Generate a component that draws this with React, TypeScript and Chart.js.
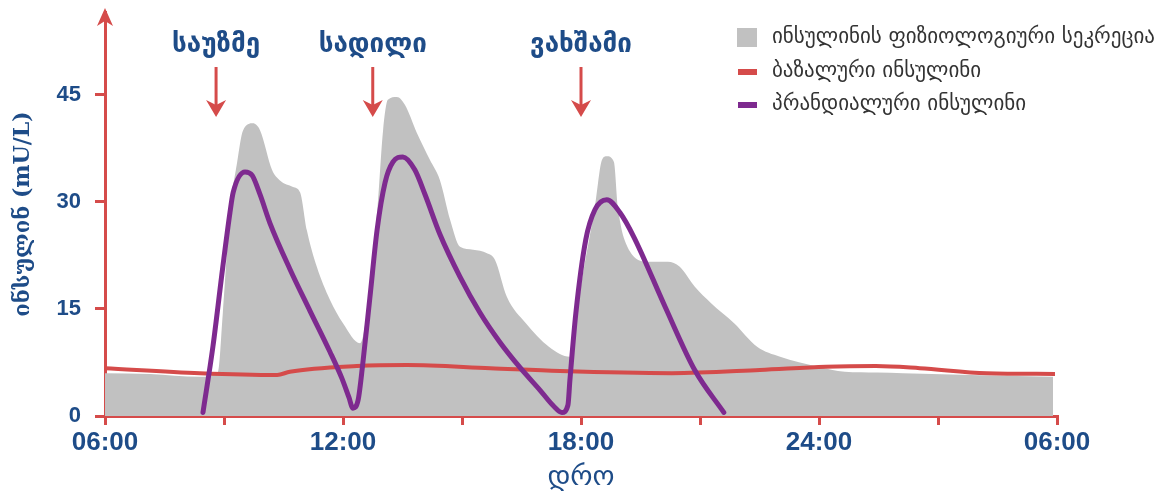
import { useEffect, useRef } from "react";
import { Chart, registerables } from "chart.js";

Chart.register(...registerables);

// ---- data (hours of the day, 6 = 06:00 ... 30 = 06:00 next day) ----
const secretionHours = [6.0, 7.13, 8.39, 8.85, 8.97, 9.15, 9.33, 9.48, 9.73, 9.91, 10.21, 10.41, 10.74, 10.92, 11.09, 11.34, 11.67, 12.0, 12.43, 12.6, 12.86, 13.01, 13.13, 13.36, 13.56, 13.86, 14.19, 14.44, 14.7, 14.95, 15.28, 15.63, 15.83, 16.13, 16.61, 17.19, 17.72, 18.02, 18.35, 18.53, 18.65, 18.83, 18.93, 19.13, 19.71, 20.19, 20.49, 20.87, 21.28, 21.86, 22.44, 23.02, 23.97, 24.65, 25.46, 26.12, 28.06, 29.9];
const secretionValues = [6.0, 5.9, 5.5, 6.2, 14.4, 28.5, 35.5, 40.0, 41.0, 40.0, 34.5, 33.0, 32.1, 31.3, 26.0, 20.9, 16.3, 13.0, 10.2, 14.4, 28.5, 40.0, 44.3, 44.7, 43.6, 39.7, 35.9, 33.1, 27.5, 23.7, 23.3, 22.8, 21.9, 16.7, 13.0, 9.7, 8.3, 19.0, 29.3, 35.9, 36.4, 35.6, 29.3, 24.2, 21.6, 21.6, 20.9, 18.1, 15.8, 13.0, 9.7, 8.3, 6.9, 6.2, 6.1, 6.0, 5.7, 5.5];

const basalHours = [6.0, 8.39, 10.34, 10.66, 12.35, 13.61, 15.71, 17.47, 20.29, 22.51, 24.17, 25.43, 26.54, 28.23, 29.95];
const basalValues = [6.7, 6.0, 5.75, 6.2, 7.0, 7.15, 6.7, 6.3, 6.0, 6.45, 6.9, 7.0, 6.7, 6.0, 5.9];

const prandialHours = [8.47, 8.72, 8.97, 9.15, 9.23, 9.53, 9.71, 9.91, 10.16, 10.66, 11.17, 11.67, 11.97, 12.15, 12.25, 12.38, 12.5, 12.68, 12.86, 13.06, 13.26, 13.51, 13.81, 14.07, 14.44, 14.95, 15.45, 15.96, 16.46, 16.97, 17.29, 17.52, 17.67, 17.72, 17.87, 18.12, 18.35, 18.65, 18.98, 19.33, 20.12, 20.87, 21.6];
const prandialValues = [0.5, 9.7, 20.9, 28.5, 31.3, 34.2, 33.7, 31.0, 27.0, 20.6, 14.7, 9.0, 5.3, 2.6, 1.1, 2.2, 7.4, 16.7, 26.1, 32.7, 35.6, 36.3, 34.5, 31.0, 25.5, 19.5, 14.5, 10.3, 6.8, 3.6, 1.5, 0.5, 1.5, 5.0, 14.4, 24.7, 28.9, 30.3, 28.5, 25.1, 15.3, 6.4, 0.5];

const xTickHours = [6, 9, 12, 15, 18, 21, 24, 27, 30];
const xTickLabels = ["06:00", "", "12:00", "", "18:00", "", "24:00", "", "06:00"];
const yTickValues = [0, 15, 30, 45];

const mealHours = [8.8, 12.75, 18.0];
const mealLabels = ["საუზმე", "სადილი", "ვახშამი"];

const seriesLabels = [
  "ინსულინის ფიზიოლოგიური სეკრეცია",
  "ბაზალური ინსულინი",
  "პრანდიალური ინსულინი",
];
const yTitle = "ინსულინ (mU/L)";
const xTitle = "დრო";

// ---- styles ----
const RED = "#D54B4A";
const PURPLE = "#7E2A8F";
const GRAY = "#C1C1C1";
const BLUE = "#1E4C88";
const GEO = "'DejaVu Sans', 'Noto Sans', sans-serif";
const GEO_SERIF = "'DejaVu Serif', 'DejaVu Sans', serif";
const NUM = "'Liberation Sans', Arial, sans-serif";

const toPoints = (xs: number[], ys: number[]) => xs.map((x, i) => ({ x, y: ys[i] }));

const overlayPlugin = {
  id: "overlay",
  afterDraw(chart: any) {
    const { ctx, chartArea, scales } = chart;
    const xs = scales.x;
    ctx.save();
    // y-axis arrow head
    const ax = chartArea.left;
    ctx.fillStyle = RED;
    ctx.strokeStyle = RED;
    ctx.lineWidth = 3;
    ctx.beginPath();
    ctx.moveTo(ax, chartArea.top + 2);
    ctx.lineTo(ax, 14);
    ctx.stroke();
    ctx.beginPath();
    ctx.moveTo(ax, 8);
    ctx.lineTo(ax + 8, 26);
    ctx.lineTo(ax, 21);
    ctx.lineTo(ax - 8, 26);
    ctx.closePath();
    ctx.fill();

    // meal arrows and labels
    mealHours.forEach((h, i) => {
      const px = xs.getPixelForValue(h);
      ctx.strokeStyle = RED;
      ctx.fillStyle = RED;
      ctx.lineWidth = 3;
      ctx.beginPath();
      ctx.moveTo(px, 67);
      ctx.lineTo(px, 108);
      ctx.stroke();
      ctx.beginPath();
      ctx.moveTo(px, 117);
      ctx.lineTo(px - 10, 100);
      ctx.lineTo(px, 105);
      ctx.lineTo(px + 10, 100);
      ctx.closePath();
      ctx.fill();
      ctx.fillStyle = BLUE;
      ctx.font = `bold 26px ${GEO}`;
      ctx.textAlign = "center";
      ctx.textBaseline = "middle";
      ctx.fillText(mealLabels[i], px, 45);
    });

    // legend
    const lx = 737;
    const rows = [38, 72, 105];
    const ds = chart.data.datasets;
    ctx.font = `21px ${GEO}`;
    ctx.textAlign = "left";
    ctx.textBaseline = "middle";
    rows.forEach((ry, i) => {
      if (i === 0) {
        ctx.fillStyle = ds[i].backgroundColor;
        ctx.fillRect(lx, ry - 10, 20, 19);
      } else {
        ctx.fillStyle = ds[i].borderColor;
        ctx.fillRect(lx + 1, ry - 3, 19, 6);
      }
      ctx.fillStyle = "#333333";
      ctx.fillText(seriesLabels[i], lx + 35, ry);
    });
    ctx.restore();
  },
};

export default function App() {
  const ref = useRef<HTMLCanvasElement | null>(null);

  useEffect(() => {
    document.body.style.margin = "0";
    if (!ref.current) return;
    const chart = new Chart(ref.current, {
      type: "line",
      data: {
        datasets: [
          {
            label: seriesLabels[0],
            data: toPoints(secretionHours, secretionValues),
            borderWidth: 0,
            borderColor: GRAY,
            backgroundColor: GRAY,
            fill: "origin",
            pointRadius: 0,
            cubicInterpolationMode: "monotone",
            order: 3,
          },
          {
            label: seriesLabels[1],
            data: toPoints(basalHours, basalValues),
            borderWidth: 4,
            borderColor: RED,
            backgroundColor: RED,
            fill: false,
            pointRadius: 0,
            cubicInterpolationMode: "monotone",
            order: 2,
          },
          {
            label: seriesLabels[2],
            data: toPoints(prandialHours, prandialValues),
            borderWidth: 5,
            borderColor: PURPLE,
            backgroundColor: PURPLE,
            borderCapStyle: "round",
            fill: false,
            pointRadius: 0,
            cubicInterpolationMode: "monotone",
            order: 1,
          },
        ],
      },
      options: {
        animation: false,
        responsive: true,
        maintainAspectRatio: false,
        layout: { padding: { left: 0, right: 106, top: 12, bottom: 0 } },
        plugins: { legend: { display: false }, tooltip: { enabled: false } },
        scales: {
          x: {
            type: "linear",
            min: 6,
            max: 30,
            afterFit: (s: any) => {
              s.height = 79;
              s.paddingLeft = 0;
              s.paddingRight = 0;
            },
            afterBuildTicks: (s: any) => {
              s.ticks = xTickHours.map((v) => ({ value: v }));
            },
            border: { color: RED, width: 3 },
            grid: { drawOnChartArea: false, drawTicks: true, tickLength: 9, color: RED, lineWidth: 3 },
            ticks: {
              autoSkip: false,
              maxRotation: 0,
              padding: 2,
              color: BLUE,
              font: { family: NUM, size: 26, weight: "bold" },
              callback: (v: any) => xTickLabels[xTickHours.indexOf(Number(v))] ?? "",
            },
            title: {
              display: true,
              text: xTitle,
              color: BLUE,
              font: { family: GEO, size: 28 },
              padding: { top: 0, bottom: 0 },
            },
          },
          y: {
            min: 0,
            max: 56.6,
            afterFit: (s: any) => {
              s.width = 105;
              s.paddingTop = 0;
              s.paddingBottom = 0;
            },
            afterBuildTicks: (s: any) => {
              s.ticks = yTickValues.map((v) => ({ value: v }));
            },
            border: { color: RED, width: 3 },
            grid: { drawOnChartArea: false, drawTicks: true, tickLength: 10, color: RED, lineWidth: 3 },
            ticks: {
              padding: 14,
              color: BLUE,
              font: { family: NUM, size: 22, weight: "bold" },
            },
            title: {
              display: true,
              text: yTitle,
              color: BLUE,
              font: { family: GEO_SERIF, size: 22, weight: "bold" },
              padding: { top: 10, bottom: 0 },
            },
          },
        },
      },
      plugins: [overlayPlugin],
    });
    return () => chart.destroy();
  }, []);

  return (
    <div style={{ width: 1163, height: 495, position: "relative" }}>
      <canvas ref={ref} />
    </div>
  );
}
